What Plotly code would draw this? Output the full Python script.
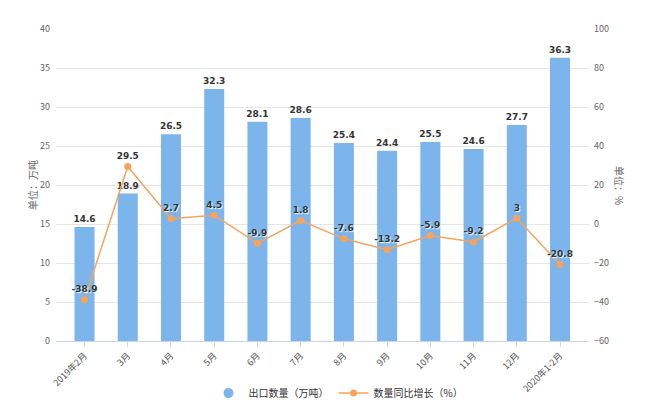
import plotly.graph_objects as go

categories = ["2019年2月", "3月", "4月", "5月", "6月", "7月", "8月", "9月", "10月", "11月", "12月", "2020年1-2月"]
export_qty = [14.6, 18.9, 26.5, 32.3, 28.1, 28.6, 25.4, 24.4, 25.5, 24.6, 27.7, 36.3]
yoy_growth = [-38.9, 29.5, 2.7, 4.5, -9.9, 1.8, -7.6, -13.2, -5.9, -9.2, 3, -20.8]

bar_color = "#7cb5ec"
line_color = "#f7a35c"
font_family = "Noto Sans CJK SC, Noto Sans, sans-serif"
label_font = dict(size=9, color="#333333", family="DejaVu Sans", weight="bold")

fig = go.Figure()
fig.add_trace(go.Bar(
    x=categories, y=export_qty, name="出口数量（万吨）", showlegend=False,
    marker=dict(color=bar_color, line=dict(width=0)),
    text=[str(v) for v in export_qty], textposition="outside", constraintext="none",
    textfont=label_font, cliponaxis=False, yaxis="y",
))
# legend entry for bars (circle symbol)
fig.add_trace(go.Scatter(
    x=[categories[0]], y=[None], mode="markers", name="出口数量（万吨）",
    marker=dict(color=bar_color, size=10, symbol="circle"), yaxis="y",
))
fig.add_trace(go.Scatter(
    x=categories, y=yoy_growth, name="数量同比增长（%）", mode="lines+markers+text",
    line=dict(color=line_color, width=1.5),
    marker=dict(color=line_color, size=7),
    text=[str(v) for v in yoy_growth], textposition="top center",
    textfont=dict(label_font, shadow="1px 1px 1px white"),
    cliponaxis=False, yaxis="y2",
))

fig.update_layout(
    width=650, height=420,
    margin=dict(l=56, r=61, t=29, b=79, autoexpand=False),
    plot_bgcolor="white", paper_bgcolor="white",
    font=dict(family=font_family, size=10, color="#666666"),
    bargap=0.537,
    showlegend=True,
    legend=dict(orientation="h", x=0.53, xanchor="center", y=-0.167, yanchor="middle",
                font=dict(size=10, color="#333333"), itemwidth=30),
    xaxis=dict(
        type="category", range=[-0.66, 11.67], tickangle=-45,
        tickfont=dict(size=9, color="#555555"),
        showline=True, linecolor="#ccd6eb", linewidth=1, automargin=False,
        ticks="outside", ticklen=5, tickcolor="#ccd6eb", showgrid=False,
    ),
    yaxis=dict(
        range=[0, 40], dtick=5, showgrid=True, gridcolor="#e6e6e6", gridwidth=1,
        zeroline=False, tickfont=dict(size=9, color="#666666"), ticklabelstandoff=5,
        automargin=False,
    ),
    yaxis2=dict(
        range=[-60, 100], dtick=20, overlaying="y", side="right", showgrid=False,
        zeroline=False, tickfont=dict(size=9, color="#666666"), ticklabelstandoff=4,
        automargin=False,
    ),
    annotations=[
        dict(text="单位：万吨", x=0, xref="paper", y=0.5, yref="paper", showarrow=False,
             xanchor="center", yanchor="middle",
             textangle=-90, font=dict(size=10, color="#666666"), xshift=-24),
        dict(text="单位：%", x=1, xref="paper", y=0.5, yref="paper", showarrow=False,
             xanchor="center", yanchor="middle",
             textangle=90, font=dict(size=10, color="#666666"), xshift=31),
    ],
)
fig.write_html("out.html")
